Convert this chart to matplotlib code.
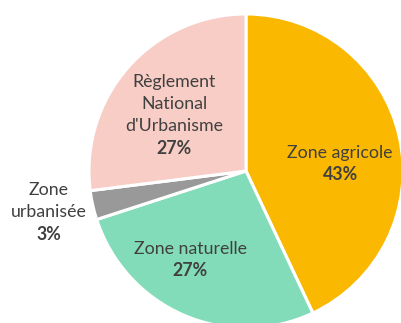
import matplotlib
matplotlib.use("Agg")
import matplotlib.pyplot as plt

categories = ["Zone agricole", "Zone naturelle", "Zone\nurbanisée", "Règlement\nNational\nd'Urbanisme"]
shares = [43, 27, 3, 27]
colors = ["#FBB800", "#82DCBA", "#999999", "#F8CDC6"]
explode = [0, 0, 0, 0.012]

# label anchor points (figure pixels, origin top-left) for each slice
label_xy = [(340, 164), (190, 260), (49, 212), (174, 115)]

W, H = 401, 323
fig = plt.figure(figsize=(W / 100, H / 100), dpi=100)
ax = fig.add_axes([0, 0, 1, 1])

cx, cy, r = 246, H - 171, 157
ax.pie(shares, colors=colors, startangle=90, counterclock=False,
       center=(cx, cy), radius=r, explode=explode,
       wedgeprops=dict(edgecolor="white", linewidth=2.2), frame=True)
ax.set_xlim(0, W)
ax.set_ylim(0, H)
ax.set_aspect("equal")
ax.axis("off")

txt = "#404040"
line_h = 22
for name, val, (x, y) in zip(categories, shares, label_xy):
    lines = name.split("\n")
    n = len(lines) + 1
    top = y - (n - 1) * line_h / 2
    for i, ln in enumerate(lines):
        ax.text(x, H - (top + i * line_h), ln, ha="center", va="center",
                fontsize=12.8, family="Lato", color=txt)
    ax.text(x, H - (top + len(lines) * line_h), f"{val}%", ha="center",
            va="center", fontsize=12.8, family="Lato", fontweight="bold", color=txt)

fig.savefig("out.png", dpi=100)
